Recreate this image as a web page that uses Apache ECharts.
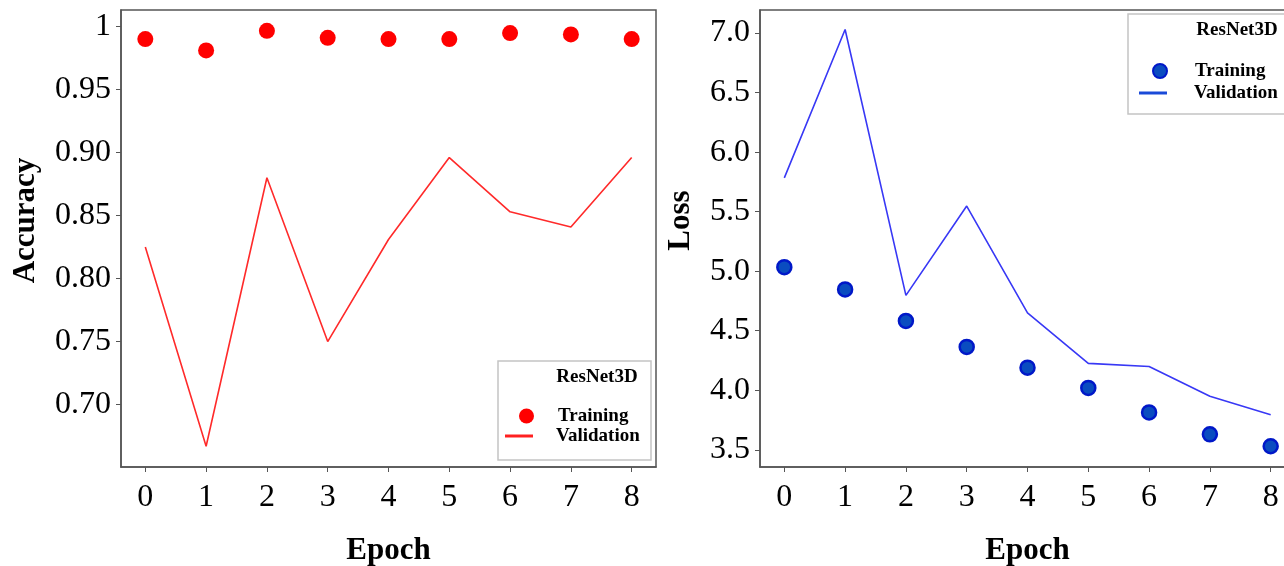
<!DOCTYPE html>
<html>
<head>
<meta charset="utf-8">
<script src="https://cdn.jsdelivr.net/npm/echarts@6/dist/echarts.min.js"></script>
<style type="text/css">
    *{
        padding: 0;
        margin: 0;
    }
    body{
        background: #fff;
        overflow: hidden;
    }
    #chart{
        width: 1284px;
        height: 566px;
    }
</style>
</head>
<body>
<div id="chart"></div>
<script type="text/javascript">
    // epochs and the values
    const epochs = [0, 1, 2, 3, 4, 5, 6, 7, 8];
    const accTrain = [0.990, 0.981, 0.9966, 0.991, 0.990, 0.990, 0.9948, 0.9937, 0.990];
    const accVal = [0.825, 0.667, 0.880, 0.750, 0.831, 0.896, 0.853, 0.841, 0.896];
    const lossTrain = [5.034, 4.847, 4.582, 4.364, 4.190, 4.020, 3.814, 3.630, 3.530];
    const lossVal = [5.784, 7.030, 4.797, 5.547, 4.650, 4.226, 4.200, 3.949, 3.794];
    const xTicks = [0, 1, 2, 3, 4, 5, 6, 7, 8];
    const accTicks = [0.70, 0.75, 0.80, 0.85, 0.90, 0.95, 1];
    const lossTicks = [3.5, 4.0, 4.5, 5.0, 5.5, 6.0, 6.5, 7.0];

    const serif = "'Liberation Serif', 'Times New Roman', serif";
    const frame = '#555';

    function pairs(xs, ys) {
        return xs.map(function (x, i) { return [x, ys[i]]; });
    }

    function xAxisOf(idx) {
        return {
            type: 'value', gridIndex: idx, min: -0.4, max: 8.4,
            name: 'Epoch', nameLocation: 'middle', nameGap: 68,
            nameTextStyle: {fontFamily: serif, fontWeight: 'bold', fontSize: 31, color: '#000'},
            splitLine: {show: false},
            axisLine: {show: true, onZero: false, lineStyle: {color: frame, width: 1.5}},
            axisTick: {show: true, length: 5, customValues: xTicks, lineStyle: {color: frame}},
            axisLabel: {customValues: xTicks, margin: 15, fontFamily: serif, fontSize: 32, color: '#000'}
        };
    }

    function yAxisOf(idx, name, min, max, ticks, fmt, gap) {
        return {
            type: 'value', gridIndex: idx, min: min, max: max,
            name: name, nameLocation: 'middle', nameGap: gap, nameRotate: 90,
            nameTextStyle: {fontFamily: serif, fontWeight: 'bold', fontSize: 31, color: '#000', padding: [0, 0, 0, 36]},
            splitLine: {show: false},
            axisLine: {show: true, onZero: false, lineStyle: {color: frame, width: 1.5}},
            axisTick: {show: true, length: 5, customValues: ticks, lineStyle: {color: frame}},
            axisLabel: {customValues: ticks, margin: 10, fontFamily: serif, fontSize: 32, color: '#000', formatter: fmt}
        };
    }

    function legendItem(name, left, top, icon, w, h, style, pad) {
        return {
            left: left, top: top, padding: 0, orient: 'vertical',
            itemWidth: w, itemHeight: h, selectedMode: false,
            data: [{name: name, icon: icon, itemStyle: style}],
            textStyle: {fontFamily: serif, fontWeight: 'bold', fontSize: 19, color: '#000', lineHeight: 20, padding: [0, 0, 0, pad]}
        };
    }

    let chart = echarts.init(document.getElementById('chart'));
    let option = {
        animation: false,
        backgroundColor: '#fff',
        grid: [
            {left: 121, top: 10, width: 535, height: 457, show: true, borderColor: frame, borderWidth: 1.5, outerBoundsMode: 'none'},
            {left: 760, top: 10, width: 535, height: 457, show: true, borderColor: frame, borderWidth: 1.5, outerBoundsMode: 'none'}
        ],
        xAxis: [xAxisOf(0), xAxisOf(1)],
        yAxis: [
            yAxisOf(0, 'Accuracy', 0.6505, 1.0131, accTicks, function (v) {
                return v === 1 ? '1' : v.toFixed(2);
            }, 80),
            yAxisOf(1, 'Loss', 3.3555, 7.1935, lossTicks, function (v) {
                return v.toFixed(1);
            }, 64)
        ],
        legend: [
            legendItem('Training', 519, 406, 'circle', 15, 15, {color: '#ff0000'}, 19),
            legendItem('Validation', 505, 426, 'rect', 28, 3, {color: '#ff2020'}, 18),
            legendItem('Training', 1152, 61, 'circle', 14, 14, {color: '#0a4cc0', borderColor: '#0018c8', borderWidth: 2}, 23),
            legendItem('Validation', 1139, 83, 'rect', 28, 3, {color: '#1a4ad8'}, 22)
        ],
        graphic: [
            {type: 'rect', shape: {x: 498, y: 361, width: 153, height: 99},
                style: {fill: '#fff', stroke: '#c4c4c4', lineWidth: 1.5}, z: 1},
            {type: 'text', x: 597, y: 377, z: 2,
                style: {text: 'ResNet3D', fontFamily: serif, fontWeight: 'bold', fontSize: 19, fill: '#000', align: 'center', verticalAlign: 'middle'}},
            {type: 'rect', shape: {x: 1128, y: 14, width: 170, height: 100},
                style: {fill: '#fff', stroke: '#c4c4c4', lineWidth: 1.5}, z: 1},
            {type: 'text', x: 1237, y: 30, z: 2,
                style: {text: 'ResNet3D', fontFamily: serif, fontWeight: 'bold', fontSize: 19, fill: '#000', align: 'center', verticalAlign: 'middle'}}
        ],
        series: [
            {
                name: 'Validation', type: 'line', xAxisIndex: 0, yAxisIndex: 0,
                data: pairs(epochs, accVal), showSymbol: false, symbol: 'none',
                lineStyle: {color: '#ff2a2a', width: 1.6}, itemStyle: {color: '#ff2020'}
            },
            {
                name: 'Training', type: 'scatter', xAxisIndex: 0, yAxisIndex: 0,
                data: pairs(epochs, accTrain), symbolSize: 16,
                itemStyle: {color: '#ff0000', opacity: 1}
            },
            {
                name: 'Validation', type: 'line', xAxisIndex: 1, yAxisIndex: 1,
                data: pairs(epochs, lossVal), showSymbol: false, symbol: 'none',
                lineStyle: {color: '#3838f5', width: 1.6}, itemStyle: {color: '#1a4ad8'}
            },
            {
                name: 'Training', type: 'scatter', xAxisIndex: 1, yAxisIndex: 1,
                data: pairs(epochs, lossTrain), symbolSize: 14,
                itemStyle: {color: '#0a4cc0', borderColor: '#0018c8', borderWidth: 2.5, opacity: 1}
            }
        ]
    };
    chart.setOption(option);
</script>
</body>
</html>
